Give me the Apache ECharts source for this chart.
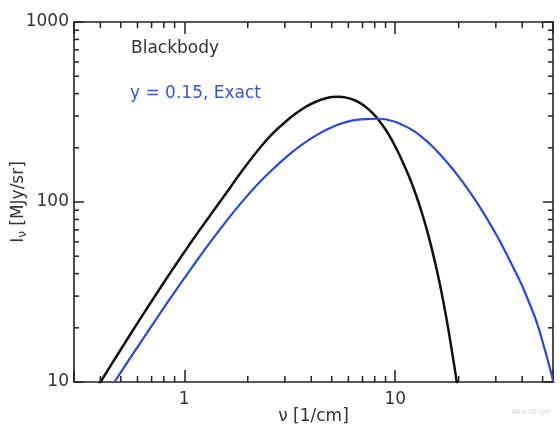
<!DOCTYPE html>
<html><head><meta charset="utf-8">
<script src="https://cdn.jsdelivr.net/npm/echarts@6/dist/echarts.min.js"></script>
<style>html,body{margin:0;padding:0;background:#fff}#c{width:560px;height:425px}</style>
</head><body><div id="c"></div>
<script>
// Blackbody spectrum (nu in 1/cm, I_nu in MJy/sr)
const nuBlackbody = [0.39,0.45,0.5,0.6,0.7,0.8,0.9,1.0,1.2,1.4,1.6,1.8,2.0,2.3,2.6,3.0,3.4,3.8,4.2,4.6,5.0,5.4,5.8,6.3,6.8,7.3,7.8,8.4,9.0,9.6,10.3,11.0,11.8,12.6,13.4,14.2,15.0,15.8,16.6,17.4,18.2,19.0,19.6,20.2];
const iBlackbody  = [9.5,12.45,15.16,21.24,28.11,35.7,43.91,52.69,71.6,91.9,114.3,138.9,164.0,201.9,237.6,277.6,311.8,339.6,360.5,374.8,382.6,384.6,381.3,371.1,355.3,335.2,312.6,283.1,252.9,223.0,190.1,161.1,133.0,108.0,86.8,68.7,53.5,41.2,31.3,23.4,17.2,12.6,9.97,7.9];
// y = 0.15 exact Compton-distorted spectrum
const nuExact = [0.44,0.47,0.53,0.62,0.72,0.84,0.98,1.15,1.35,1.6,1.9,2.25,2.65,3.1,3.6,4.2,4.8,5.5,6.3,7.2,8.2,9.8,11.8,13.4,15.0,17.9,20.2,23.0,25.2,27.7,30.3,33.2,36.3,39.7,46.8,53.0,55.9,57.0];
const iExact  = [9.0,10.13,12.56,16.57,21.53,28.1,36.44,47.47,61.35,79.56,101.8,127.1,153.6,181.1,207.7,233.9,254.5,272.2,284.1,288.9,290.0,281.1,254.9,229.6,203.9,162.7,136.2,110.1,93.6,78.1,65.1,53.3,43.3,34.9,21.6,13.1,10.3,9.3];

const xMajorTicks = [1, 10];
const yMajorTicks = [10, 100, 1000];
const xMinorTicks = [0.4,0.5,0.6,0.7,0.8,0.9,2,3,4,5,6,7,8,9,20,30,40,50];
const yMinorTicks = [20,30,40,50,60,70,80,90,200,300,400,500,600,700,800,900];
const labelBlackbody = 'Blackbody';
const labelExact = 'y = 0.15, Exact';

const X_MIN = 0.3, X_MAX = 56, Y_MIN = 10, Y_MAX = 1000;
const FONT = 'DejaVu Sans';
const AX = '#222';
const BLUE = '#2b48d6';

function fmt(list) {
  return v => { const m = list.find(t => Math.abs(v - t) / t < 1e-6); return m !== undefined ? String(m) : ''; };
}
function zip(a, b) { return a.map((v, i) => [v, b[i]]); }

const chart = echarts.init(document.getElementById('c'), null, {renderer: 'canvas'});

const baseAxis = {
  type: 'log', logBase: 10,
  axisLine: {show: true, onZero: false, lineStyle: {color: AX, width: 1.6}},
  splitLine: {show: false},
  minorTick: {show: false}
};

chart.setOption({
  animation: false,
  backgroundColor: '#fff',
  grid: {left: 74, top: 22, right: 7, bottom: 43, containLabel: false, outerBoundsMode: 'none'},
  xAxis: [
    Object.assign({}, baseAxis, {
      min: X_MIN, max: X_MAX, position: 'bottom',
      axisTick: {show: true, inside: true, length: 12, lineStyle: {color: AX, width: 1.5}},
      axisLabel: {formatter: fmt(xMajorTicks), fontFamily: FONT, fontSize: 17, color: '#333', margin: 9},
      name: 'ν [1/cm]', nameLocation: 'middle', nameGap: 26, nameMoveOverlap: false,
      nameTextStyle: {fontFamily: FONT, fontSize: 17, color: '#333'}
    }),
    Object.assign({}, baseAxis, {
      min: X_MIN, max: X_MAX, position: 'top',
      axisTick: {show: true, inside: true, length: 12, lineStyle: {color: AX, width: 1.5}},
      axisLabel: {show: false}
    })
  ],
  yAxis: [
    Object.assign({}, baseAxis, {
      min: Y_MIN, max: Y_MAX, position: 'left',
      axisTick: {show: true, inside: true, length: 10, lineStyle: {color: AX, width: 1.5}},
      axisLabel: {formatter: fmt(yMajorTicks), fontFamily: FONT, fontSize: 17, color: '#333', margin: 5},
      name: '{i|I}{s|ν} [MJy/sr]', nameLocation: 'middle', nameGap: 45, nameRotate: 90, nameMoveOverlap: false,
      nameTextStyle: {fontFamily: FONT, fontSize: 17, color: '#333',
        rich: {i: {fontFamily: FONT, fontSize: 17, color: '#333'},
               s: {fontFamily: FONT, fontSize: 12, color: '#333', padding: [9, 0, 0, 0]}}}
    }),
    Object.assign({}, baseAxis, {
      min: Y_MIN, max: Y_MAX, position: 'right',
      axisTick: {show: true, inside: true, length: 10, lineStyle: {color: AX, width: 1.5}},
      axisLabel: {show: false}
    })
  ],
  graphic: [
    {type: 'text', left: 131, top: 40, style: {text: labelBlackbody, font: '17px "DejaVu Sans"', fill: '#333'}},
    {type: 'text', left: 130, top: 85, style: {text: labelExact, font: '17px "DejaVu Sans"', fill: '#3d52d4'}},
    {type: 'text', left: 512, top: 409, style: {text: 'Ned Wright', font: '7px "DejaVu Sans"', fill: '#d4d4d4'}}
  ],
  series: [
    {type: 'line', name: labelBlackbody, data: zip(nuBlackbody, iBlackbody), showSymbol: false, smooth: 0.3,
     lineStyle: {color: '#111', width: 2.5}, itemStyle: {color: '#111'}, xAxisIndex: 0, yAxisIndex: 0, z: 3},
    {type: 'line', name: labelExact, data: zip(nuExact, iExact), showSymbol: false, smooth: 0.3,
     lineStyle: {color: BLUE, width: 2.2}, itemStyle: {color: BLUE}, xAxisIndex: 0, yAxisIndex: 0, z: 3},
    {type: 'custom', xAxisIndex: 0, yAxisIndex: 0, silent: true, z: 5,
     data: xMinorTicks.map(v => [v, Y_MIN]),
     renderItem: (params, api) => {
       const v = api.value(0);
       const b = api.coord([v, Y_MIN]), t = api.coord([v, Y_MAX]);
       const st = {stroke: AX, lineWidth: 1.5};
       return {type: 'group', children: [
         {type: 'line', shape: {x1: b[0], y1: b[1], x2: b[0], y2: b[1] - 6}, style: st},
         {type: 'line', shape: {x1: t[0], y1: t[1], x2: t[0], y2: t[1] + 6}, style: st}
       ]};
     }},
    {type: 'custom', xAxisIndex: 0, yAxisIndex: 0, silent: true, z: 5,
     data: yMinorTicks.map(v => [X_MIN, v]),
     renderItem: (params, api) => {
       const v = api.value(1);
       const l = api.coord([X_MIN, v]), r = api.coord([X_MAX, v]);
       const st = {stroke: AX, lineWidth: 1.5};
       return {type: 'group', children: [
         {type: 'line', shape: {x1: l[0], y1: l[1], x2: l[0] + 5, y2: l[1]}, style: st},
         {type: 'line', shape: {x1: r[0], y1: r[1], x2: r[0] - 5, y2: r[1]}, style: st}
       ]};
     }}
  ]
});
</script>
</body></html>
